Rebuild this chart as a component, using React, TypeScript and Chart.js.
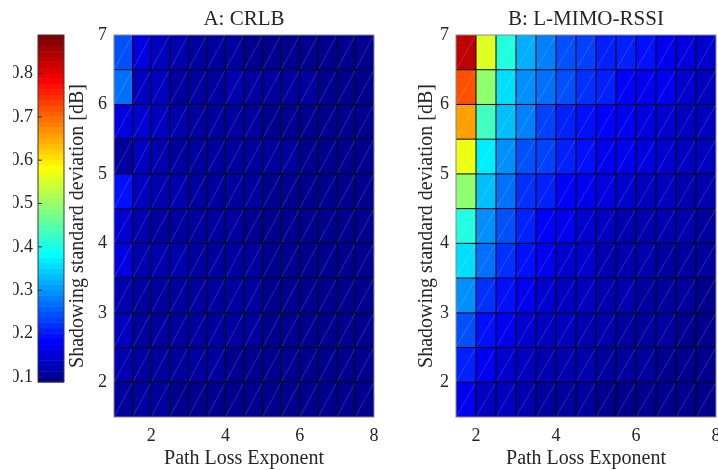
import React, { useEffect, useRef } from 'react';
import { Chart, registerables } from 'chart.js';

Chart.register(...registerables);

// ---------- data ----------
const CLIM_MIN = 0.088;
const CLIM_MAX = 0.889;
const CBAR_TICKS = [0.1, 0.2, 0.3, 0.4, 0.5, 0.6, 0.7, 0.8];
const Y_TICKS = [2, 3, 4, 5, 6, 7];
const X_TICKS = [2, 4, 6, 8];
const CELL = 0.5;

const TITLE_A = 'A: CRLB';
const TITLE_B = 'B: L-MIMO-RSSI';
const X_LABEL = 'Path Loss Exponent';
const Y_LABEL = 'Shadowing standard deviation [dB]';

// lower edge of each row (top row first)
const SIGMA_ROWS = [6.5, 6, 5.5, 5, 4.5, 4, 3.5, 3, 2.5, 2, 1.5];
// left edge of each column
const A_PLE = [1, 1.5, 2, 2.5, 3, 3.5, 4, 4.5, 5, 5.5, 6, 6.5, 7, 7.5];
const B_PLE = [1.5, 2, 2.5, 3, 3.5, 4, 4.5, 5, 5.5, 6, 6.5, 7, 7.5];

const A_VALUES = [
  [0.244, 0.156, 0.136, 0.116, 0.112, 0.106, 0.103, 0.1, 0.097, 0.097, 0.096, 0.096, 0.096, 0.096],
  [0.267, 0.136, 0.128, 0.11, 0.106, 0.112, 0.12, 0.106, 0.103, 0.106, 0.103, 0.1, 0.1, 0.098],
  [0.16, 0.14, 0.128, 0.12, 0.11, 0.11, 0.106, 0.103, 0.1, 0.1, 0.1, 0.1, 0.099, 0.099],
  [0.11, 0.136, 0.12, 0.11, 0.108, 0.106, 0.11, 0.103, 0.103, 0.106, 0.1, 0.098, 0.098, 0.098],
  [0.19, 0.136, 0.125, 0.115, 0.11, 0.11, 0.105, 0.103, 0.1, 0.1, 0.1, 0.1, 0.099, 0.099],
  [0.145, 0.12, 0.113, 0.11, 0.108, 0.105, 0.108, 0.1, 0.098, 0.098, 0.098, 0.098, 0.098, 0.098],
  [0.156, 0.12, 0.115, 0.115, 0.105, 0.105, 0.105, 0.103, 0.098, 0.098, 0.098, 0.098, 0.098, 0.098],
  [0.116, 0.11, 0.113, 0.11, 0.103, 0.11, 0.11, 0.106, 0.098, 0.098, 0.098, 0.098, 0.098, 0.098],
  [0.13, 0.106, 0.106, 0.103, 0.103, 0.106, 0.105, 0.103, 0.098, 0.098, 0.098, 0.098, 0.098, 0.098],
  [0.116, 0.106, 0.103, 0.103, 0.103, 0.103, 0.1, 0.098, 0.098, 0.098, 0.098, 0.098, 0.098, 0.098],
  [0.106, 0.103, 0.103, 0.098, 0.098, 0.098, 0.098, 0.098, 0.098, 0.098, 0.098, 0.098, 0.098, 0.098],
];

const B_VALUES = [
  [0.833, 0.56, 0.412, 0.324, 0.276, 0.25, 0.228, 0.212, 0.204, 0.196, 0.172, 0.156, 0.148],
  [0.726, 0.489, 0.36, 0.292, 0.264, 0.244, 0.224, 0.204, 0.186, 0.168, 0.164, 0.148, 0.132],
  [0.662, 0.436, 0.328, 0.276, 0.236, 0.212, 0.2, 0.176, 0.164, 0.156, 0.148, 0.136, 0.136],
  [0.569, 0.372, 0.3, 0.25, 0.228, 0.204, 0.194, 0.172, 0.164, 0.152, 0.148, 0.136, 0.128],
  [0.489, 0.336, 0.267, 0.22, 0.204, 0.176, 0.168, 0.152, 0.14, 0.132, 0.128, 0.12, 0.116],
  [0.412, 0.296, 0.244, 0.204, 0.176, 0.164, 0.148, 0.132, 0.124, 0.12, 0.124, 0.12, 0.112],
  [0.353, 0.264, 0.22, 0.194, 0.164, 0.148, 0.14, 0.124, 0.12, 0.116, 0.112, 0.108, 0.104],
  [0.29, 0.22, 0.194, 0.164, 0.148, 0.132, 0.128, 0.12, 0.116, 0.108, 0.108, 0.104, 0.1],
  [0.25, 0.194, 0.164, 0.148, 0.136, 0.128, 0.124, 0.116, 0.112, 0.108, 0.104, 0.1, 0.098],
  [0.204, 0.164, 0.14, 0.132, 0.124, 0.12, 0.116, 0.108, 0.104, 0.104, 0.1, 0.1, 0.098],
  [0.164, 0.136, 0.128, 0.12, 0.112, 0.108, 0.104, 0.1, 0.098, 0.098, 0.096, 0.096, 0.095],
];

// ---------- colormap (MATLAB jet, 64) ----------
function makeJet(m: number): number[][] {
  const n = Math.ceil(m / 4);
  const u: number[] = [];
  for (let i = 1; i <= n; i++) u.push(i / n);
  for (let i = 1; i < n; i++) u.push(1);
  for (let i = n; i >= 1; i--) u.push(i / n);
  const gOff = Math.ceil(n / 2) - (m % 4 === 1 ? 1 : 0);
  const cols = Array.from({ length: m }, () => [0, 0, 0]);
  for (let k = 1; k <= u.length; k++) {
    const gi = gOff + k;
    const ri = gi + n;
    const bi = gi - n;
    if (gi >= 1 && gi <= m) cols[gi - 1][1] = u[k - 1];
    if (ri >= 1 && ri <= m) cols[ri - 1][0] = u[k - 1];
    if (bi >= 1 && bi <= m) cols[bi - 1][2] = u[k - 1];
  }
  return cols;
}
const JET = makeJet(64);
function rgbOf(c: number[]) {
  return `rgb(${Math.round(c[0] * 255)},${Math.round(c[1] * 255)},${Math.round(c[2] * 255)})`;
}
function colorFor(v: number) {
  let idx = Math.floor(((v - CLIM_MIN) / (CLIM_MAX - CLIM_MIN)) * 64);
  idx = Math.max(0, Math.min(63, idx));
  return rgbOf(JET[idx]);
}

const FONT_FAMILY = "'Liberation Serif', 'Times New Roman', serif";
const TEXT = '#262626';

// ---------- plugins ----------
const heatPlugin = {
  id: 'heat',
  afterDatasetsDraw(chart: any, _args: any, opts: any) {
    if (!opts || !opts.values) return;
    const ctx = chart.ctx;
    const xs = chart.scales.x;
    const ys = chart.scales.y;
    const { ple, rows, values } = opts;
    ctx.save();
    rows.forEach((sig: number, r: number) => {
      ple.forEach((p: number, c: number) => {
        const x0 = xs.getPixelForValue(p);
        const x1 = xs.getPixelForValue(p + CELL);
        const y0 = ys.getPixelForValue(sig + CELL);
        const y1 = ys.getPixelForValue(sig);
        ctx.fillStyle = colorFor(values[r][c]);
        ctx.fillRect(x0, y0, x1 - x0, y1 - y0);
      });
    });
    ctx.strokeStyle = 'rgba(255,255,255,0.22)';
    ctx.lineWidth = 0.7;
    rows.forEach((sig: number) => {
      ple.forEach((p: number) => {
        const x0 = xs.getPixelForValue(p);
        const x1 = xs.getPixelForValue(p + CELL);
        const y0 = ys.getPixelForValue(sig + CELL);
        const y1 = ys.getPixelForValue(sig);
        ctx.beginPath();
        ctx.moveTo(x0, y1);
        ctx.lineTo(x1, y0);
        ctx.stroke();
      });
    });
    const left = xs.getPixelForValue(ple[0]);
    const right = xs.getPixelForValue(ple[ple.length - 1] + CELL);
    const top = ys.getPixelForValue(rows[0] + CELL);
    const bottom = ys.getPixelForValue(rows[rows.length - 1]);
    ctx.strokeStyle = '#000';
    ctx.lineWidth = 1;
    ple.forEach((p: number, i: number) => {
      if (i === 0) return;
      const x = xs.getPixelForValue(p);
      ctx.beginPath();
      ctx.moveTo(x, top);
      ctx.lineTo(x, bottom);
      ctx.stroke();
    });
    rows.forEach((sig: number, i: number) => {
      if (i === 0) return;
      const y = ys.getPixelForValue(sig + CELL);
      ctx.beginPath();
      ctx.moveTo(left, y);
      ctx.lineTo(right, y);
      ctx.stroke();
    });
    ctx.strokeStyle = '#8a8a8a';
    ctx.lineWidth = 1;
    ctx.strokeRect(left, top, right - left, bottom - top);
    ctx.restore();
  },
};

const cbarPlugin = {
  id: 'cbar',
  afterDatasetsDraw(chart: any, _args: any, opts: any) {
    if (!opts || !opts.on) return;
    const ctx = chart.ctx;
    const ys = chart.scales.y;
    const { left, right } = chart.chartArea;
    ctx.save();
    const step = (CLIM_MAX - CLIM_MIN) / 64;
    for (let i = 0; i < 64; i++) {
      const yb = ys.getPixelForValue(CLIM_MIN + i * step);
      const yt = ys.getPixelForValue(CLIM_MIN + (i + 1) * step);
      ctx.fillStyle = rgbOf(JET[i]);
      ctx.fillRect(left, yt, right - left, yb - yt + 0.5);
    }
    ctx.strokeStyle = TEXT;
    ctx.lineWidth = 1;
    CBAR_TICKS.forEach((v) => {
      const y = ys.getPixelForValue(v);
      ctx.beginPath();
      ctx.moveTo(left, y);
      ctx.lineTo(left + 4, y);
      ctx.stroke();
    });
    const top = ys.getPixelForValue(CLIM_MAX);
    const bottom = ys.getPixelForValue(CLIM_MIN);
    ctx.strokeStyle = '#3a3a3a';
    ctx.strokeRect(left, top, right - left, bottom - top);
    ctx.restore();
  },
};

const NO_GRID = { display: false, drawTicks: false, tickLength: 0 };

function heatConfig(
  title: string,
  ple: number[],
  values: number[][],
  xMin: number,
  padRight: number,
  yTitlePad: number
): any {
  return {
    type: 'scatter',
    data: { datasets: [] },
    plugins: [heatPlugin],
    options: {
      responsive: false,
      animation: false,
      events: [],
      layout: { padding: { left: 0, right: padRight, top: 0, bottom: 0 } },
      plugins: {
        legend: { display: false },
        tooltip: { enabled: false },
        title: {
          display: true,
          fullSize: false,
          text: title,
          color: TEXT,
          font: { family: FONT_FAMILY, size: 21, weight: 'normal' },
          padding: { top: 7, bottom: 2.8 },
        },
        heat: { ple, rows: SIGMA_ROWS, values },
      },
      scales: {
        x: {
          type: 'linear',
          min: xMin,
          max: 8,
          grid: NO_GRID,
          border: { display: false },
          afterBuildTicks: (s: any) => {
            s.ticks = X_TICKS.map((v) => ({ value: v }));
          },
          afterFit: (s: any) => {
            s.height = 53;
          },
          ticks: {
            autoSkip: false,
            maxRotation: 0,
            padding: 8,
            color: TEXT,
            font: { family: FONT_FAMILY, size: 18 },
            callback: (v: any) => String(v),
          },
          title: {
            display: true,
            text: X_LABEL,
            color: TEXT,
            font: { family: FONT_FAMILY, size: 20 },
            padding: { top: 0, bottom: -1 },
          },
        },
        y: {
          type: 'linear',
          min: 1.5,
          max: 7,
          grid: NO_GRID,
          border: { display: false },
          afterBuildTicks: (s: any) => {
            s.ticks = Y_TICKS.map((v) => ({ value: v }));
          },
          afterFit: (s: any) => {
            s.width = 56;
          },
          ticks: {
            autoSkip: false,
            padding: 7,
            color: TEXT,
            font: { family: FONT_FAMILY, size: 18 },
            callback: (v: any) => String(v),
          },
          title: {
            display: true,
            text: Y_LABEL,
            color: TEXT,
            font: { family: FONT_FAMILY, size: 20 },
            padding: { top: yTitlePad, bottom: 0 },
          },
        },
      },
    },
  };
}

function cbarConfig(): any {
  return {
    type: 'scatter',
    data: { datasets: [] },
    plugins: [cbarPlugin],
    options: {
      responsive: false,
      animation: false,
      events: [],
      layout: { padding: { left: 0, right: 9, top: 35, bottom: 88 } },
      plugins: {
        legend: { display: false },
        tooltip: { enabled: false },
        title: { display: false },
        cbar: { on: true },
      },
      scales: {
        x: { type: 'linear', display: false, min: 0, max: 1 },
        y: {
          type: 'linear',
          min: CLIM_MIN,
          max: CLIM_MAX,
          grid: NO_GRID,
          border: { display: false },
          afterBuildTicks: (s: any) => {
            s.ticks = CBAR_TICKS.map((v) => ({ value: v }));
          },
          afterFit: (s: any) => {
            s.width = 25;
          },
          ticks: {
            autoSkip: false,
            padding: 5,
            color: TEXT,
            font: { family: FONT_FAMILY, size: 18 },
            callback: (v: any) => Number(v).toFixed(1),
          },
        },
      },
    },
  };
}

function ChartCanvas({ config, left, width }: { config: () => any; left: number; width: number }) {
  const ref = useRef<HTMLCanvasElement | null>(null);
  useEffect(() => {
    if (!ref.current) return;
    const chart = new Chart(ref.current, config());
    return () => chart.destroy();
  }, []);
  return (
    <canvas
      ref={ref}
      width={width}
      height={470}
      style={{ position: 'absolute', left, top: 0, width, height: 470 }}
    />
  );
}

export default function App() {
  return (
    <div
      style={{
        position: 'absolute',
        left: 0,
        top: 0,
        width: 718,
        height: 470,
        overflow: 'hidden',
        background: '#fff',
      }}
    >
      <ChartCanvas config={cbarConfig} left={13} width={60} />
      <ChartCanvas config={() => heatConfig(TITLE_A, A_PLE, A_VALUES, 1, 16, 8)} left={58} width={332} />
      <ChartCanvas config={() => heatConfig(TITLE_B, B_PLE, B_VALUES, 1.5, 14, 14.5)} left={400} width={330} />
    </div>
  );
}
